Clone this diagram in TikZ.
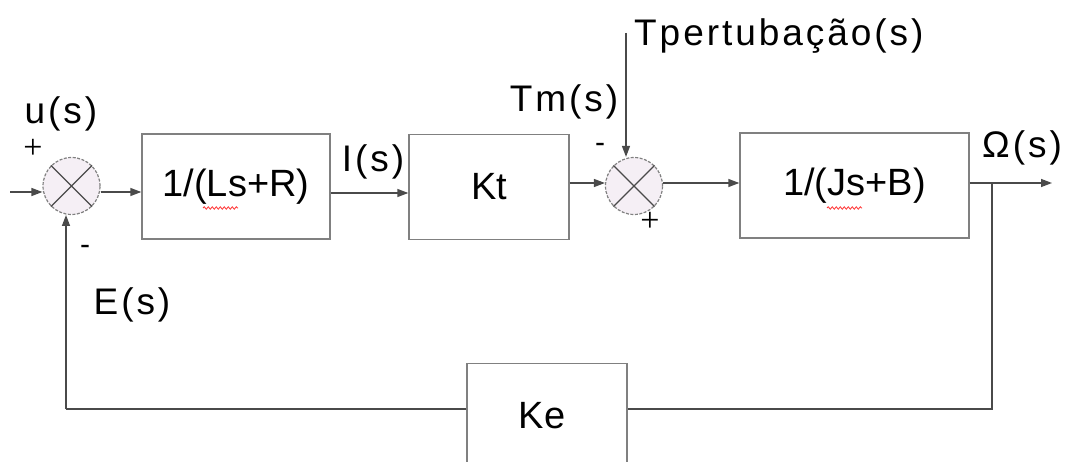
\documentclass[tikz,border=0pt]{standalone}
\usepackage{fontspec}
\setmainfont{Liberation Sans}
\newfontfamily\labfont[LetterSpace=8]{Liberation Sans}
\newfontfamily\plusfont{Liberation Serif}
\usetikzlibrary{arrows.meta,decorations.pathmorphing}
\definecolor{linegray}{HTML}{4A4A4A}
\definecolor{boxgray}{HTML}{808080}
\definecolor{sumfill}{HTML}{F5EFF5}
\tikzset{
  blockbox/.style={draw=boxgray,line width=1.4pt,minimum width=#1,minimum height=105,inner sep=0pt,
    font=\fontsize{38}{40}\selectfont},
  sumnode/.style={circle,draw=boxgray,dashed,dash pattern=on 3pt off 1.5pt,line width=1.2pt,fill=sumfill,
    minimum size=57,inner sep=0pt},
  conn/.style={draw=linegray,line width=1.4pt},
  arr/.style={conn,-{Triangle[length=11pt,width=8pt]}},
  lab/.style={inner sep=0pt,font=\labfont\fontsize{37}{40}\selectfont},
  sign/.style={inner sep=0pt,font=\plusfont\fontsize{34}{36}\selectfont},
  minus/.style={inner sep=0pt,font=\fontsize{30}{32}\selectfont},
  squig/.style={draw=red!80!white,line width=0.8pt,decorate,decoration={snake,amplitude=1.2pt,segment length=4pt}}
}
\begin{document}
\begin{tikzpicture}[x=1pt,y=-1pt]
\useasboundingbox (0,0) rectangle (1067,462);
\clip (0,0) rectangle (1067,462);
% blocks
\node[sumnode] (s1) at (71.5,186) {};
\node[blockbox=188] (b1) at (236,186.5) {1/(Ls+R)};
\node[blockbox=160] (kt) at (489,187) {Kt};
\node[sumnode] (s2) at (634,186) {};
\node[blockbox=229] (b3) at (854.5,185.5) {1/(Js+B)};
\node[draw=boxgray,line width=1.4pt,minimum width=160,minimum height=140,inner sep=0pt,
  anchor=north] (ke) at (547,363) {};
\node[inner sep=0pt,font=\fontsize{38}{40}\selectfont] (ketext) at (542,416) {Ke};
% X marks in summing junctions
\draw[linegray,line width=1.3pt] (s1.45) -- (s1.225) (s1.135) -- (s1.315);
\draw[linegray,line width=1.3pt] (s2.45) -- (s2.225) (s2.135) -- (s2.315);
% coordinates
\coordinate (in) at (10,192);
\coordinate (tp) at (626,33);
\coordinate (br) at (992,183);
\coordinate (out) at (1052,183);
\coordinate (fbr) at (992,409);
\coordinate (fbl) at (66,409);
% connectors
\draw[arr] (in) -- (s1.west |- in);
\draw[arr] (s1.east |- in) -- (b1.west |- in);
\draw[arr] (b1.east |- 0,193) -- (kt.west |- 0,193);
\draw[arr] (kt.east |- 0,183) -- (s2.west |- 0,183);
\draw[arr] (s2.east |- 0,183) -- (b3.west |- 0,183);
\draw[arr] (tp) -- (tp |- s2.north);
\draw[conn] (b3.east |- br) -- (br);
\draw[arr] (br) -- (out);
\draw[conn] (br) -- (fbr) -- (ke.east |- fbr);
\draw[conn] (ke.west |- fbl) -- (fbl);
\draw[arr] (fbl) -- (66,215);
% spell-check squiggles
\draw[squig] (203,208) -- (238,208);
\draw[squig] (827,208) -- (862,208);
% labels
\node[lab] (lu) at (61,114) {u(s)};
\node[sign] (p1) at (33,149) {+};
\node[minus] (m1) at (85,250) {-};
\node[lab] (le) at (132,305) {E(s)};
\node[lab] (li) at (373,162) {I(s)};
\node[lab] (ltm) at (564,102) {Tm(s)};
\node[lab,anchor=west] (ltp) at (634,36) {Tpertubação(s)};
\node[minus] (m2) at (600,148) {-};
\node[sign] (p2) at (650,222) {+};
\node[lab] (lo) at (1022,148) {Ω(s)};
\end{tikzpicture}
\end{document}
